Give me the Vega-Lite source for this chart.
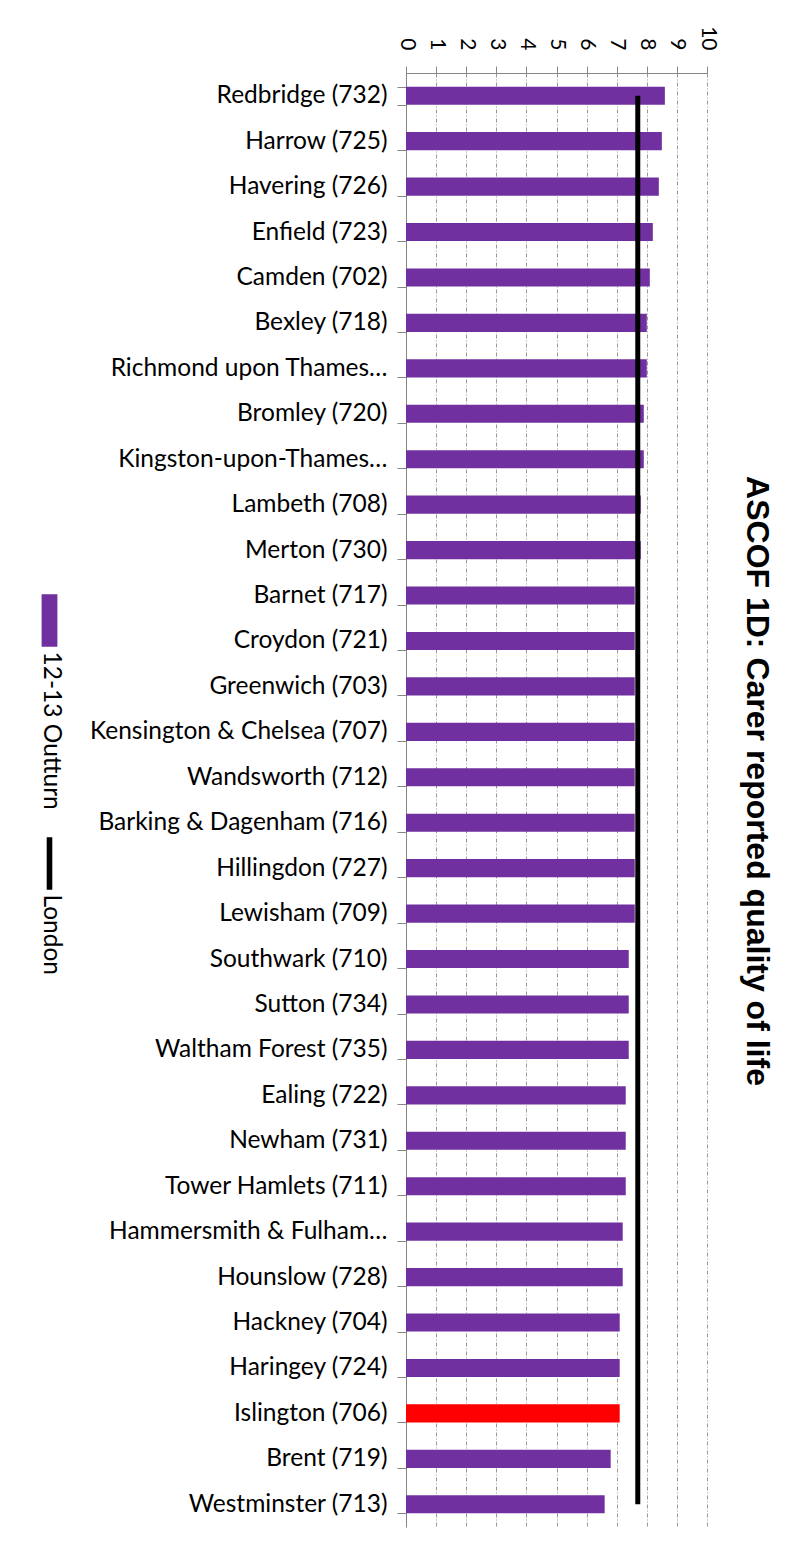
{
  "$schema": "https://vega.github.io/schema/vega-lite/v6.json",
  "width": 301,
  "height": 1454,
  "autosize": {"type": "none"},
  "padding": {"left": 406, "top": 73, "right": 85, "bottom": 24},
  "background": "white",
  "title": {
    "text": "ASCOF 1D: Carer reported quality of life",
    "orient": "right",
    "anchor": "middle",
    "font": "Liberation Sans",
    "fontSize": 32,
    "fontWeight": "bold",
    "color": "#000000",
    "offset": 22,
    "dx": -19
  },
  "data": {
    "values": [
      {"borough": "Redbridge (732)", "value": 8.6, "london": 7.7},
      {"borough": "Harrow (725)", "value": 8.5, "london": 7.7},
      {"borough": "Havering (726)", "value": 8.4, "london": 7.7},
      {"borough": "Enfield (723)", "value": 8.2, "london": 7.7},
      {"borough": "Camden (702)", "value": 8.1, "london": 7.7},
      {"borough": "Bexley (718)", "value": 8.0, "london": 7.7},
      {"borough": "Richmond upon Thames…", "value": 8.0, "london": 7.7},
      {"borough": "Bromley (720)", "value": 7.9, "london": 7.7},
      {"borough": "Kingston-upon-Thames…", "value": 7.9, "london": 7.7},
      {"borough": "Lambeth (708)", "value": 7.8, "london": 7.7},
      {"borough": "Merton (730)", "value": 7.8, "london": 7.7},
      {"borough": "Barnet (717)", "value": 7.6, "london": 7.7},
      {"borough": "Croydon (721)", "value": 7.6, "london": 7.7},
      {"borough": "Greenwich (703)", "value": 7.6, "london": 7.7},
      {"borough": "Kensington & Chelsea (707)", "value": 7.6, "london": 7.7},
      {"borough": "Wandsworth (712)", "value": 7.6, "london": 7.7},
      {"borough": "Barking & Dagenham (716)", "value": 7.6, "london": 7.7},
      {"borough": "Hillingdon (727)", "value": 7.6, "london": 7.7},
      {"borough": "Lewisham (709)", "value": 7.6, "london": 7.7},
      {"borough": "Southwark (710)", "value": 7.4, "london": 7.7},
      {"borough": "Sutton (734)", "value": 7.4, "london": 7.7},
      {"borough": "Waltham Forest (735)", "value": 7.4, "london": 7.7},
      {"borough": "Ealing (722)", "value": 7.3, "london": 7.7},
      {"borough": "Newham (731)", "value": 7.3, "london": 7.7},
      {"borough": "Tower Hamlets (711)", "value": 7.3, "london": 7.7},
      {"borough": "Hammersmith & Fulham…", "value": 7.2, "london": 7.7},
      {"borough": "Hounslow (728)", "value": 7.2, "london": 7.7},
      {"borough": "Hackney (704)", "value": 7.1, "london": 7.7},
      {"borough": "Haringey (724)", "value": 7.1, "london": 7.7},
      {"borough": "Islington (706)", "value": 7.1, "london": 7.7},
      {"borough": "Brent (719)", "value": 6.8, "london": 7.7},
      {"borough": "Westminster (713)", "value": 6.6, "london": 7.7}
    ]
  },
  "encoding": {
    "y": {
      "field": "borough",
      "type": "nominal",
      "sort": null,
      "scale": {"paddingInner": 0.6, "paddingOuter": 0.3},
      "axis": {
        "title": null,
        "tickBand": "extent",
        "tickSize": 9,
        "tickColor": "#868686",
        "domainColor": "#868686",
        "labelPadding": 10,
        "labelFont": "Lato",
        "labelFontSize": 24.5,
        "labelColor": "#000000",
        "labelLimit": 500,
        "grid": false
      }
    },
    "x": {
      "field": "value",
      "type": "quantitative",
      "scale": {"domain": [0, 10], "nice": false},
      "axis": {
        "orient": "top",
        "title": null,
        "tickCount": 10,
        "tickMinStep": 1,
        "labelOverlap": false,
        "labelFlush": false,
        "labelBound": false,
        "labelAngle": 90,
        "labelAlign": "right",
        "labelBaseline": "middle",
        "labelPadding": 16,
        "labelFont": "Lato",
        "labelFontSize": 21,
        "labelColor": "#000000",
        "tickSize": 7,
        "tickColor": "#868686",
        "domainColor": "#868686",
        "grid": true,
        "gridColor": "#999999",
        "gridDash": [4, 2, 1, 2]
      }
    }
  },
  "layer": [
    {
      "mark": {"type": "bar"},
      "encoding": {
        "color": {
          "condition": {"test": "datum.borough === 'Islington (706)'", "value": "#FF0000"},
          "datum": "12-13 Outturn",
          "scale": {"domain": ["12-13 Outturn", "London"], "range": ["#7030A0", "#000000"]},
          "legend": {
            "orient": "none",
            "legendX": -383,
            "legendY": 521,
            "title": null,
            "direction": "vertical",
            "padding": 0,
            "symbolSize": 2601,
            "labelOffset": 0,
            "labelFont": "Lato",
            "labelFontSize": 24.5,
            "labelColor": "#000000",
            "labelLimit": 500,
            "rowPadding": 25,
            "encode": {
              "labels": {
                "update": {
                  "angle": {"value": 90},
                  "align": {"value": "left"},
                  "baseline": {"value": "middle"},
                  "dx": {"value": 31},
                  "dy": {"value": 25.5}
                }
              },
              "symbols": {
                "update": {
                  "shape": {"signal": "datum.value === 'London' ? 'M-0.08,-1H0.08V1H-0.08Z' : 'M-0.28,-1H0.28V1H-0.28Z'"},
                  "fill": {"scale": "color", "field": "value"},
                  "stroke": {"value": "transparent"},
                  "size": {"value": 2601},
                  "opacity": {"value": 1},
                  "fillOpacity": {"value": 1}
                }
              }
            }
          }
        }
      }
    },
    {
      "mark": {"type": "line", "strokeWidth": 5},
      "encoding": {
        "x": {"field": "london", "type": "quantitative"},
        "color": {"datum": "London"}
      }
    }
  ],
  "config": {
    "view": {"stroke": null},
    "axis": {"labelOverlap": false}
  }
}
